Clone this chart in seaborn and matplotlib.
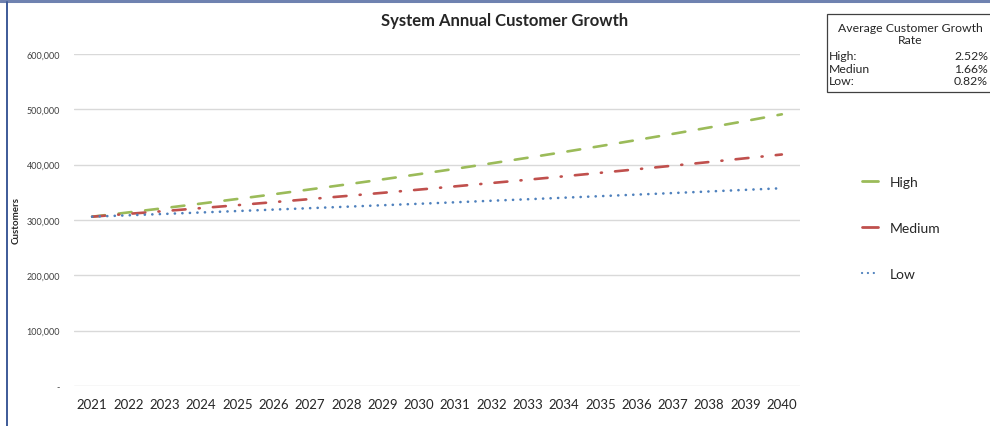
import pandas as pd
import matplotlib.pyplot as plt
import seaborn as sns
from matplotlib.patches import Rectangle
from matplotlib.lines import Line2D
from matplotlib.ticker import FuncFormatter

# values
years = list(range(2021, 2041))
high = [306000, 313700, 321600, 329700, 338000, 346500, 355300, 364200, 373400, 382800,
        392500, 402400, 412500, 422900, 433600, 444500, 455700, 467200, 478900, 491000]
medium = [306000, 311100, 316200, 321500, 326800, 332300, 337800, 343400, 349100, 354900,
          360800, 366800, 372800, 379000, 385300, 391700, 398200, 404800, 411600, 418400]
low = [306000, 308500, 311000, 313600, 316200, 318800, 321400, 324000, 326700, 329300,
       332000, 334800, 337500, 340300, 343100, 345900, 348700, 351600, 354500, 357400]
scenarios = ['High', 'Medium', 'Low']
rate_labels = ['High:', 'Mediun', 'Low:']
rates = ['2.52%', '1.66%', '0.82%']
colors = {'High': '#9BBB59', 'Medium': '#C0504D', 'Low': '#4F81BD'}
dashes = {'High': (4.9, 5.2), 'Medium': (4.9, 5.0, 0.4, 5.0), 'Low': (0.05, 2.8)}


def build_frame():
    rows = []
    for name, vals in zip(scenarios, [high, medium, low]):
        for y, v in zip(years, vals):
            rows.append({'year': y, 'customers': v, 'scenario': name})
    return pd.DataFrame(rows)


def legend_handle(name):
    if name == 'Low':
        return Line2D([0], [0], color=colors[name], linewidth=1.6,
                      dashes=(0.05, 2.6), dash_capstyle='round')
    return Line2D([0], [0], color=colors[name], linewidth=2.0, linestyle='-')


def main():
    sns.set_theme(style='white')
    plt.rcParams['font.family'] = ['Lato', 'DejaVu Sans']
    df = build_frame()

    fig = plt.figure(figsize=(9.9, 4.27), dpi=100)
    ax = fig.add_axes([74 / 990, 40 / 427, 726 / 990, 332 / 427])

    sns.lineplot(data=df, x='year', y='customers', hue='scenario', style='scenario',
                 palette=colors, dashes=dashes, linewidth=1.9, legend=False, ax=ax)
    for line in ax.lines:
        line.set_dash_capstyle('round')

    ax.set_xlim(years[0] - 0.5, years[-1] + 0.5)
    ax.set_ylim(0, 600000)
    ax.set_yticks(range(0, 600001, 100000))
    ax.set_xticks(years)
    ax.yaxis.set_major_formatter(FuncFormatter(lambda v, p: '-' if v == 0 else f'{int(v):,}'))
    ax.grid(axis='y', color='#D9D9D9', linewidth=1)
    ax.set_axisbelow(True)
    for s in ax.spines.values():
        s.set_visible(False)
    ax.tick_params(axis='y', labelsize=6.5, colors='#404040', pad=10, length=0)
    ax.tick_params(axis='x', labelsize=9.5, colors='#262626', pad=9, length=0)
    ax.set_xlabel('')
    ax.set_ylabel('Customers', fontsize=7, fontweight='bold')
    ax.yaxis.set_label_coords(-0.074, 0.5)

    fig.text(505 / 990, 1 - 21 / 427, 'System Annual Customer Growth',
             ha='center', va='center', fontsize=12, fontweight='bold')

    # legend on the right
    handles = [legend_handle(n) for n in scenarios]
    fig.legend(handles, scenarios, loc='center left', bbox_to_anchor=(849 / 990, 1 - 229 / 427),
               frameon=False, fontsize=10, handlelength=1.2, handletextpad=0.8,
               labelspacing=2.45)

    # growth rate box, cut at the right edge like the reference
    fig.patches.append(Rectangle((827 / 990, 1 - 93 / 427), 180 / 990, 78 / 427,
                                 transform=fig.transFigure, facecolor='white',
                                 edgecolor='#404040', linewidth=0.9))
    fig.text(910 / 990, 1 - 28 / 427, 'Average Customer Growth', ha='center', va='center', fontsize=8.8)
    fig.text(910 / 990, 1 - 41 / 427, 'Rate', ha='center', va='center', fontsize=8.8)
    for i, (lab, r) in enumerate(zip(rate_labels, rates)):
        yy = 1 - (57 + i * 12.3) / 427
        fig.text(829 / 990, yy, lab, ha='left', va='center', fontsize=8.8)
        fig.text(988 / 990, yy, r, ha='right', va='center', fontsize=8.8)

    # outer frame lines
    fig.add_artist(Line2D([0, 1], [1 - 1.5 / 427] * 2, transform=fig.transFigure,
                          color='#6F82B0', linewidth=2.2))
    fig.add_artist(Line2D([6.5 / 990] * 2, [0, 1 - 3 / 427], transform=fig.transFigure,
                          color='#3D5A98', linewidth=1.4))

    fig.savefig('out.png', dpi=100)


if __name__ == "__main__":
    main()
